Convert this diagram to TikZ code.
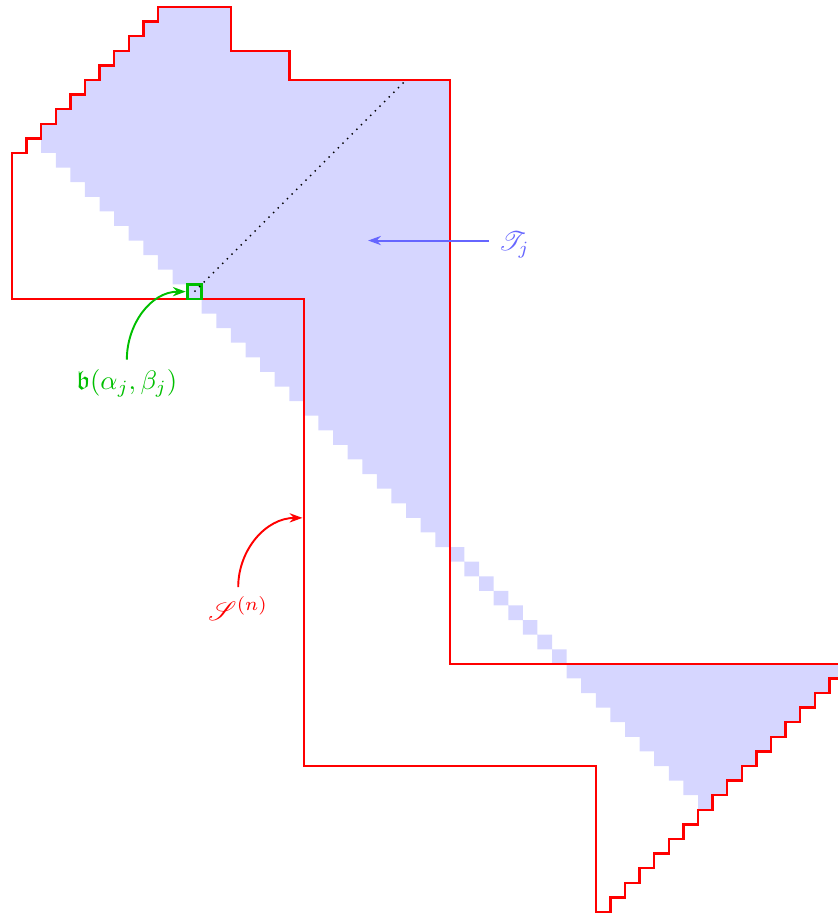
\documentclass[tikz,border=0pt]{standalone}
\usepackage{amsmath}
\usepackage{amssymb}
\usepackage{mathrsfs}
\usetikzlibrary{arrows.meta}
\definecolor{cellblue}{RGB}{214,214,255}
\definecolor{labelblue}{RGB}{102,102,255}
\definecolor{boxgreen}{RGB}{0,191,0}

\begin{document}
\begin{tikzpicture}[x=2mm,y=2mm,
    region/.style={red,line width=0.95pt,line join=miter},
    pointer/.style={-{Stealth[length=5pt,width=3.6pt]},line width=0.75pt}]

\useasboundingbox (-0.82,0.48) rectangle (56.58,-62.07);

% Shaded cells of T_j
\fill[cellblue] (10,0) -- (15,0) -- (15,-3) -- (19,-3) -- (19,-5) -- (30,-5) -- (30,-37)
    \foreach \k in {30,...,37} { -- (\k+1,-\k-7) -- (\k+1,-\k-8) }
    -- (57,-45)
    \foreach \k in {57,...,48} { -- (\k,-103+\k) -- (\k-1,-103+\k) }
    \foreach \r in {54,...,10} { -- (\r-7,-\r) -- (\r-8,-\r) }
    \foreach \r in {8,...,1} { -- (10-\r,-\r) -- (11-\r,-\r) }
    -- cycle;

% Outline of S^(n)
\draw[region] (0,-10)
    \foreach \k in {1,...,10} { -- (\k,-11+\k) -- (\k,-10+\k) }
    -- (15,0) -- (15,-3) -- (19,-3) -- (19,-5) -- (30,-5) -- (30,-45) -- (57,-45)
    \foreach \k in {57,...,42} { -- (\k,-103+\k) -- (\k-1,-103+\k) }
    -- (41,-62) -- (40,-62) -- (40,-52) -- (20,-52) -- (20,-20) -- (0,-20) -- cycle;

% The cell b(alpha_j,beta_j) and the diagonal
\node[draw=boxgreen,line width=1.1pt,minimum size=2mm,inner sep=0pt] (bcell) at (12.5,-19.5) {};
\coordinate (diagtop) at (27,-5);
\draw[dotted,line width=0.55pt] (bcell.center) -- (diagtop);

% Labels
\node[boxgreen,scale=1.04] (blabel) at (7.87,-25.75) {$\mathfrak{b}(\alpha_j,\beta_j)$};
\draw[pointer,boxgreen] (blabel.north) to[out=90,in=180] (bcell.west);

\node[red,scale=1.04] (slabel) at (15.5,-41.2) {$\mathscr{S}^{(n)}$};
\coordinate (sside) at (19.9,-35);
\draw[pointer,red] (slabel.north) to[out=90,in=180] (sside);

\node[labelblue,scale=1.04] (tlabel) at (34.4,-16.3) {$\mathscr{T}_j$};
\coordinate (tinside) at (24.4,-16);
\draw[pointer,labelblue] (tlabel.west |- tinside) -- (tinside);

\end{tikzpicture}
\end{document}
